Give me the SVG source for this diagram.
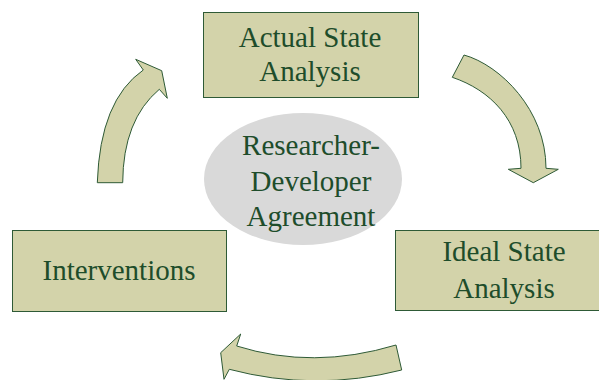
<svg xmlns="http://www.w3.org/2000/svg" width="599" height="380" viewBox="0 0 599 380">
<style>
.box{fill:#d3d3aa;stroke:#2e5a36;stroke-width:1}
.arrow{fill:#d3d3aa;stroke:#2e5a36;stroke-width:1;stroke-linejoin:miter}
.lbl{font-family:"Liberation Serif","Times New Roman",serif;font-size:29px;fill:#1e4d2b;text-anchor:middle}
</style>
<rect width="599" height="380" fill="#ffffff"/>
<g id="center">
<ellipse cx="303" cy="179" rx="99" ry="66" fill="#d9d9d9"/>
<text class="lbl" x="311" y="155">Researcher-</text>
<text class="lbl" x="311" y="191">Developer</text>
<text class="lbl" x="311" y="226">Agreement</text>
</g>
<g id="actual">
<rect class="box" x="203.5" y="12.5" width="215" height="85"/>
<text class="lbl" x="310" y="47">Actual State</text>
<text class="lbl" x="310" y="81">Analysis</text>
</g>
<g id="ideal">
<rect class="box" x="395.5" y="230.5" width="217" height="80"/>
<text class="lbl" x="504" y="261">Ideal State</text>
<text class="lbl" x="504" y="298">Analysis</text>
</g>
<g id="interventions">
<rect class="box" x="12.5" y="230.5" width="214" height="81"/>
<text class="lbl" x="119" y="280">Interventions</text>
</g>
<g id="connectors">
<path class="arrow" d="M97.3,182.7 Q100,100 143.3,70 L135.7,59.3 L161.7,70.7 L167.3,98.3 L159.3,89.3 Q123,120 122.7,182.7 Z"/>
<path class="arrow" d="M464,55 C500,65 546,110 546,168.3 L558.3,169.3 L533.3,182.7 L508.3,169.3 L521,168.3 C521,120 490,90 452.3,77.3 Z"/>
<path class="arrow" d="M396,345 Q313,370 236.7,346 L240.7,334 L220.7,352.7 L224,379.3 L229.3,369.3 Q315,392 401.7,370 Z"/>
</g>
</svg>
